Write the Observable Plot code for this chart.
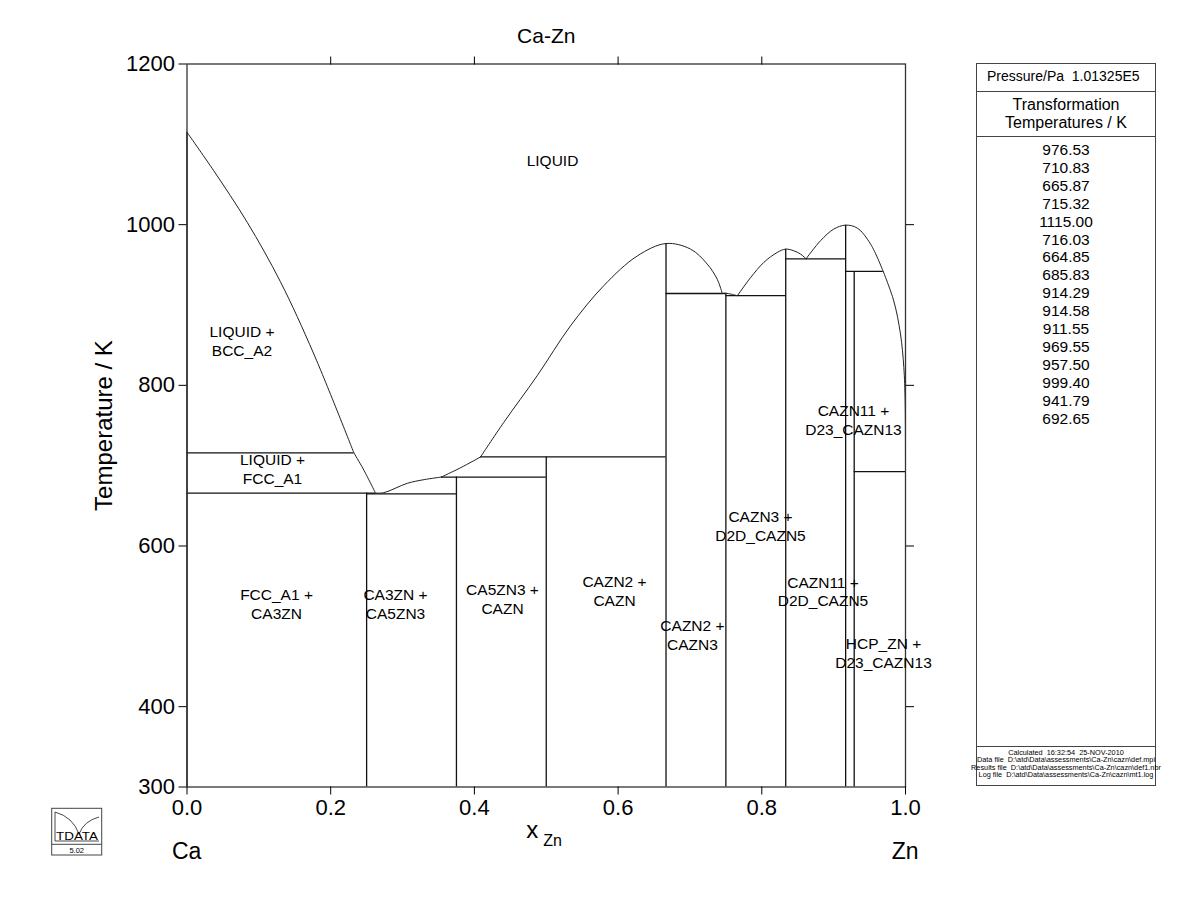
<!DOCTYPE html>
<html><head><meta charset="utf-8">
<script src="https://cdn.jsdelivr.net/npm/d3@7"></script>
<script src="https://cdn.jsdelivr.net/npm/@observablehq/plot@0.6"></script>
<style>
body{margin:0;background:#fff;font-family:"Liberation Sans",Arial,sans-serif;color:#000;}
#wrap{position:relative;width:1200px;height:923px;overflow:hidden;background:#fff;}
#wrap > svg{position:absolute;left:0;top:0;}
#panel{position:absolute;left:976px;top:63px;width:180px;height:723px;border:1.3px solid #444;box-sizing:border-box;color:#000;}
#panel .row1{position:absolute;left:0;right:0;top:0;height:27px;border-bottom:1.3px solid #444;font-size:14px;line-height:25px;padding-left:10px;white-space:nowrap;}
#panel .row2{position:absolute;left:0;right:0;top:27px;height:46px;border-bottom:1.3px solid #444;font-size:16px;line-height:18px;text-align:center;padding-top:5px;box-sizing:border-box;}
#panel .temps{position:absolute;left:0;right:0;top:77px;font-size:15.5px;line-height:17.9px;text-align:center;}
#panel .foot{position:absolute;left:-30px;right:-30px;top:685px;font-size:7.3px;line-height:7.4px;text-align:center;white-space:nowrap;color:#000;}
#panel .footline{position:absolute;left:0;right:0;top:682px;height:0;border-top:1.3px solid #444;}
</style>
</head><body><div id="wrap"></div>
<script>
// ---------- data ----------
const chartTitle = "Ca-Zn";
const yTicks = [300, 400, 600, 800, 1000, 1200];
const yTicksRight = [400, 600, 800, 1000];
const xTicks = [0, 0.2, 0.4, 0.6, 0.8, 1.0];
const xTicksTop = [0.2, 0.4, 0.6, 0.8];

// liquidus segments, [x_Zn, T/K]
const liqCaBcc  = [[0,1115],[0.0373,1067],[0.0838,1003],[0.130,929],[0.1765,839],[0.2322,716.03]];
const liqCaFcc  = [[0.2322,716.03],[0.2452,696],[0.2624,665.87]];
const liqCa3Zn  = [[0.2624,665.87],[0.274,666.4],[0.3065,678],[0.33,682.6],[0.354,685.83]];
const liqCa5Zn3 = [[0.354,685.83],[0.381,697.5],[0.4085,710.83]];
const liqCaZn2  = [[0.4085,710.83],[0.441,754],[0.4874,812],[0.5337,874],[0.580,924],[0.6266,961],[0.6667,976.53],[0.7008,969.6],[0.724,951],[0.738,932],[0.745,914.29]];
const liqCaZn3  = [[0.745,914.29],[0.75,914.58],[0.758,913.4],[0.766,911.55]];
const liqCaZn5  = [[0.766,911.55],[0.7843,934],[0.8028,953],[0.8214,965.4],[0.8333,969.55],[0.8445,967.5],[0.8539,963.4],[0.8616,957.5]];
const liqCaZn11 = [[0.8616,957.5],[0.8817,980],[0.9002,994.5],[0.9167,999.4],[0.9328,995.8],[0.9513,976],[0.969,941.79]];
const liqZn     = [[0.969,941.79],[0.9837,905],[0.993,864],[0.9977,822],[0.9995,780],[1.0,692.65]];

// invariant (horizontal) lines
const invT  = [716.03, 665.87, 664.85, 685.83, 710.83, 914.29, 911.55, 957.50, 941.79, 692.65];
const invX1 = [0,      0,      0.25,   0.354,  0.4085, 0.6667, 0.75,   0.8333, 0.9167, 0.9286];
const invX2 = [0.2322, 0.2624, 0.375,  0.5,    0.6667, 0.75,   0.8333, 0.9167, 0.969,  1.0];

// stoichiometric compounds (vertical lines)
const compX = [0, 0.25, 0.375, 0.5, 0.6667, 0.75, 0.8333, 0.9167, 0.9286];
const compT = [1115, 665.87, 685.83, 710.83, 976.53, 914.58, 969.55, 999.40, 941.79];

// phase-field labels
const labelText = ["LIQUID","LIQUID +\nBCC_A2","LIQUID +\nFCC_A1","FCC_A1 +\nCA3ZN","CA3ZN +\nCA5ZN3","CA5ZN3 +\nCAZN","CAZN2 +\nCAZN","CAZN2 +\nCAZN3","CAZN3 +\nD2D_CAZN5","CAZN11 +\nD23_CAZN13","CAZN11 +\nD2D_CAZN5","HCP_ZN +\nD23_CAZN13"];
const labelX = [0.5087, 0.0765, 0.119, 0.1246, 0.2902, 0.4391, 0.595, 0.7035, 0.7982, 0.9276, 0.8852, 0.9694];
const labelT = [1080, 856, 697, 528.5, 528.5, 534.5, 544.5, 490, 626, 758, 544, 468];

// side panel texts
const panelPressure = "Pressure/Pa\u00a0\u00a01.01325E5";
const panelHeader = ["Transformation", "Temperatures / K"];
const transTemps = ["976.53","710.83","665.87","715.32","1115.00","716.03","664.85","685.83","914.29","914.58","911.55","969.55","957.50","999.40","941.79","692.65"];
const footer = ["Calculated\u00a0\u00a016:32:54\u00a0\u00a025-NOV-2010",
  "Data file\u00a0\u00a0D:\\atd\\Data\\assessments\\Ca-Zn\\cazn\\def.mpi",
  "Results file\u00a0\u00a0D:\\atd\\Data\\assessments\\Ca-Zn\\cazn\\def1.nbr",
  "Log file\u00a0\u00a0D:\\atd\\Data\\assessments\\Ca-Zn\\cazn\\mt1.log"];

// ---------- build tables ----------
const segs = [liqCaBcc, liqCaFcc, liqCa3Zn, liqCa5Zn3, liqCaZn2, liqCaZn3, liqCaZn5, liqCaZn11, liqZn];
const liquidus = segs.flatMap((s, i) => s.map(([x, T]) => ({seg: i, x, T})));
const invariants = invT.map((T, i) => ({T, x1: invX1[i], x2: invX2[i]}));
const compounds = compX.map((x, i) => ({x, T: compT[i]}));
const labels = labelText.map((text, i) => ({text, x: labelX[i], T: labelT[i]}));

const FONT = "Liberation Sans, Arial, Helvetica, sans-serif";
const chart = Plot.plot({
  width: 1200, height: 923,
  marginLeft: 186.5, marginRight: 295, marginTop: 63.5, marginBottom: 136.5,
  style: {fontFamily: FONT, background: "#fff", overflow: "visible", color: "#000"},
  x: {domain: [0, 1], label: null},
  y: {domain: [300, 1200], label: null},
  marks: [
    Plot.ruleX(compounds, {x: "x", y1: 300, y2: "T", stroke: "#111", strokeWidth: 1.3}),
    Plot.ruleY(invariants, {y: "T", x1: "x1", x2: "x2", stroke: "#111", strokeWidth: 1.3}),
    Plot.line(liquidus, {x: "x", y: "T", z: "seg", curve: "catmull-rom", stroke: "#222", strokeWidth: 1}),
    Plot.frame({stroke: "#333", strokeWidth: 1.3}),
    Plot.axisY(yTicks, {anchor: "left", tickSize: 8, tickPadding: 4, fontSize: 22, label: null, tickFormat: d => String(d)}),
    Plot.axisY(yTicksRight, {anchor: "right", tickSize: 8, label: null, tickFormat: () => ""}),
    Plot.axisX(xTicks, {anchor: "bottom", tickSize: 8, tickPadding: 4, fontSize: 22, label: null, tickFormat: d3.format(".1f")}),
    Plot.axisX(xTicksTop, {anchor: "top", tickSize: 8, label: null, tickFormat: () => ""}),
    Plot.text(labels, {x: "x", y: "T", text: "text", fontSize: 15.5, lineHeight: 1.22, fill: "#000"}),
    Plot.text([chartTitle], {frameAnchor: "top", dy: -36, fontSize: 21, fill: "#000"}),
    Plot.text(["Temperature / K"], {frameAnchor: "left", textAnchor: "middle", rotate: -90, dx: -83, fontSize: 24, fill: "#000"}),
    Plot.text(["x"], {frameAnchor: "bottom", textAnchor: "end", dx: -8, dy: 51, fontSize: 24, fill: "#000"}),
    Plot.text(["Zn"], {frameAnchor: "bottom", textAnchor: "start", dx: -3, dy: 59, fontSize: 16, fill: "#000"}),
    Plot.text(["Ca"], {frameAnchor: "bottom-left", textAnchor: "start", dx: -15, dy: 72, fontSize: 23, fill: "#000"}),
    Plot.text(["Zn"], {frameAnchor: "bottom-right", textAnchor: "end", dx: 13, dy: 72, fontSize: 23, fill: "#000"})
  ]
});

const wrap = document.getElementById("wrap");
wrap.appendChild(chart);

// side panel
const panel = document.createElement("div");
panel.id = "panel";
panel.innerHTML =
  `<div class="row1">${panelPressure}</div>` +
  `<div class="row2">${panelHeader.join("<br>")}</div>` +
  `<div class="temps">${transTemps.join("<br>")}</div>` +
  `<div class="footline"></div>` +
  `<div class="foot">${footer.join("<br>")}</div>`;
wrap.appendChild(panel);

// logo
const logo = d3.select(wrap).append("svg")
  .attr("width", 1200).attr("height", 923)
  .style("position", "absolute").style("left", 0).style("top", 0).style("pointer-events", "none");
logo.append("rect").attr("x", 51.7).attr("y", 808.3).attr("width", 50).attr("height", 46.7)
  .attr("fill", "none").attr("stroke", "#444").attr("stroke-width", 1);
logo.append("line").attr("x1", 51.7).attr("x2", 101.7).attr("y1", 844.3).attr("y2", 844.3).attr("stroke", "#444");
logo.append("path").attr("d", "M55,841V812 Q73,817 79,834 Q84,821 99,817 M55,841H99")
  .attr("fill", "none").attr("stroke", "#333").attr("stroke-width", 0.9);
logo.append("text").attr("x", 77).attr("y", 840).attr("text-anchor", "middle")
  .attr("font-family", FONT).attr("font-size", 10.5).attr("textLength", 42)
  .attr("lengthAdjust", "spacingAndGlyphs").text("TDATA");
logo.append("text").attr("x", 76.7).attr("y", 852.8).attr("text-anchor", "middle")
  .attr("font-family", FONT).attr("font-size", 7.5).text("5.02");
</script>
</body></html>
